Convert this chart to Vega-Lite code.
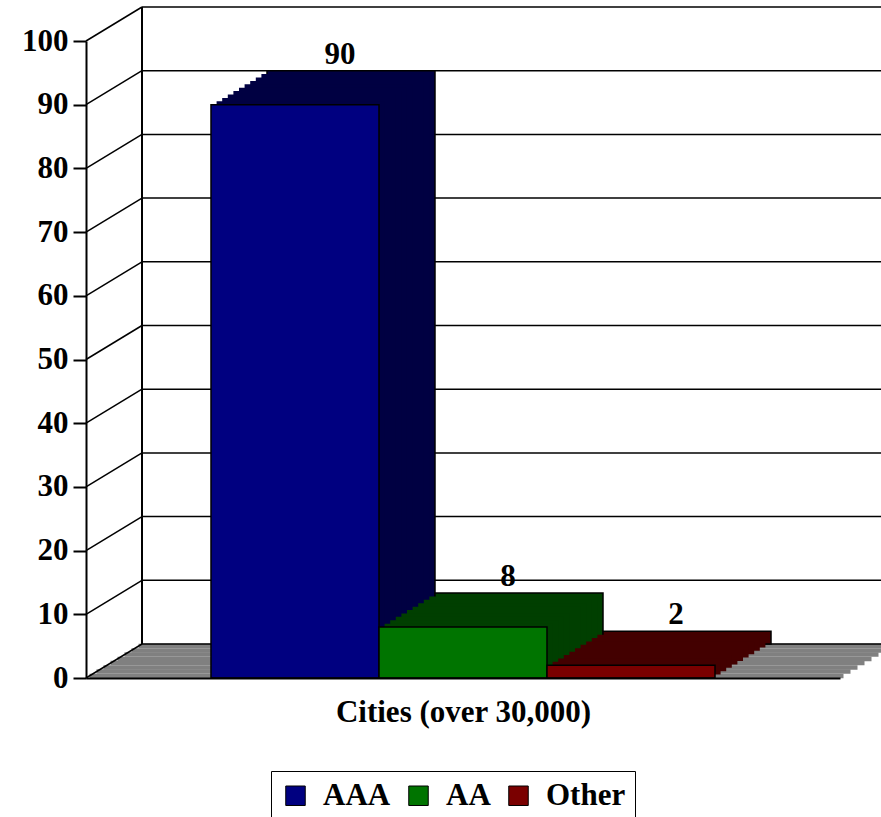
{
  "$schema": "https://vega.github.io/schema/vega-lite/v6.json",
  "width": 754,
  "height": 637,
  "autosize": "none",
  "padding": {"left": 86, "top": 41, "right": 41, "bottom": 139},
  "background": "white",
  "config": {
    "view": {"stroke": null},
    "font": "Liberation Serif",
    "axis": {"labelFont": "Liberation Serif", "titleFont": "Liberation Serif", "labelFontWeight": "bold", "titleFontWeight": "bold", "labelColor": "black", "titleColor": "black"},
    "legend": {"labelFont": "Liberation Serif", "titleFont": "Liberation Serif", "labelFontWeight": "bold", "labelColor": "black"},
    "text": {"font": "Liberation Serif"}
  },
  "datasets": {
    "bars": [
      {"series": "AAA", "value": 90},
      {"series": "AA", "value": 8},
      {"series": "Other", "value": 2}
    ],
    "grid": [
      {"value": 0}, {"value": 10}, {"value": 20}, {"value": 30}, {"value": 40}, {"value": 50},
      {"value": 60}, {"value": 70}, {"value": 80}, {"value": 90}, {"value": 100}
    ]
  },
  "data": {"name": "bars"},
  "layer": [
    {"data": {"name": "grid"}, "transform": [{"filter": "datum.value == 0"}],
     "mark": {"type": "rule", "color": "#808080", "strokeWidth": 4.5, "xOffset": 3.5, "x2Offset": 3.5, "yOffset": -2.1, "y2Offset": -2.1},
     "encoding": {"x": {"value": 0}, "x2": {"value": "width"}, "y": {"field": "value", "type": "quantitative", "scale": {"domain": [0, 100], "nice": false}}}},
    {"data": {"name": "grid"}, "transform": [{"filter": "datum.value == 0"}],
     "mark": {"type": "rule", "color": "#808080", "strokeWidth": 4.5, "xOffset": 10.5, "x2Offset": 10.5, "yOffset": -6.4, "y2Offset": -6.4},
     "encoding": {"x": {"value": 0}, "x2": {"value": "width"}, "y": {"field": "value", "type": "quantitative"}}},
    {"data": {"name": "grid"}, "transform": [{"filter": "datum.value == 0"}],
     "mark": {"type": "rule", "color": "#808080", "strokeWidth": 4.5, "xOffset": 17.5, "x2Offset": 17.5, "yOffset": -10.6, "y2Offset": -10.6},
     "encoding": {"x": {"value": 0}, "x2": {"value": "width"}, "y": {"field": "value", "type": "quantitative"}}},
    {"data": {"name": "grid"}, "transform": [{"filter": "datum.value == 0"}],
     "mark": {"type": "rule", "color": "#808080", "strokeWidth": 4.5, "xOffset": 24.5, "x2Offset": 24.5, "yOffset": -14.9, "y2Offset": -14.9},
     "encoding": {"x": {"value": 0}, "x2": {"value": "width"}, "y": {"field": "value", "type": "quantitative"}}},
    {"data": {"name": "grid"}, "transform": [{"filter": "datum.value == 0"}],
     "mark": {"type": "rule", "color": "#808080", "strokeWidth": 4.5, "xOffset": 31.5, "x2Offset": 31.5, "yOffset": -19.1, "y2Offset": -19.1},
     "encoding": {"x": {"value": 0}, "x2": {"value": "width"}, "y": {"field": "value", "type": "quantitative"}}},
    {"data": {"name": "grid"}, "transform": [{"filter": "datum.value == 0"}],
     "mark": {"type": "rule", "color": "#808080", "strokeWidth": 4.5, "xOffset": 38.5, "x2Offset": 38.5, "yOffset": -23.4, "y2Offset": -23.4},
     "encoding": {"x": {"value": 0}, "x2": {"value": "width"}, "y": {"field": "value", "type": "quantitative"}}},
    {"data": {"name": "grid"}, "transform": [{"filter": "datum.value == 0"}],
     "mark": {"type": "rule", "color": "#808080", "strokeWidth": 4.5, "xOffset": 45.5, "x2Offset": 45.5, "yOffset": -27.6, "y2Offset": -27.6},
     "encoding": {"x": {"value": 0}, "x2": {"value": "width"}, "y": {"field": "value", "type": "quantitative"}}},
    {"data": {"name": "grid"}, "transform": [{"filter": "datum.value == 0"}],
     "mark": {"type": "rule", "color": "#808080", "strokeWidth": 4.5, "xOffset": 52.5, "x2Offset": 52.5, "yOffset": -31.9, "y2Offset": -31.9},
     "encoding": {"x": {"value": 0}, "x2": {"value": "width"}, "y": {"field": "value", "type": "quantitative"}}},
    {"data": {"name": "grid"},
     "mark": {"type": "rule", "color": "black", "strokeWidth": 1.5, "xOffset": 56, "x2Offset": 56, "yOffset": -34, "y2Offset": -34},
     "encoding": {"x": {"value": 0}, "x2": {"value": "width"}, "y": {"field": "value", "type": "quantitative"}}},
    {"data": {"name": "grid"},
     "mark": {"type": "rule", "color": "black", "strokeWidth": 1.5, "x2Offset": 56, "y2Offset": -34},
     "encoding": {"x": {"value": 0}, "x2": {"value": 0}, "y": {"field": "value", "type": "quantitative"}, "y2": {"field": "value"}}},
    {"data": {"name": "grid"}, "transform": [{"filter": "datum.value == 0"}],
     "mark": {"type": "rule", "color": "black", "strokeWidth": 2, "xOffset": 56, "yOffset": -34, "y2Offset": -34},
     "encoding": {"x": {"value": 0}, "y": {"datum": 0, "type": "quantitative"}, "y2": {"datum": 100}}},

    {"mark": {"type": "bar", "stroke": "black", "strokeWidth": 1.5, "xOffset": 56, "x2Offset": 56, "yOffset": -34, "y2Offset": -34},
     "encoding": {
       "x": {"field": "series", "type": "nominal", "scale": {"domain": ["AAA", "AA", "Other"], "paddingInner": 0, "paddingOuter": 0.744}},
       "y": {"field": "value", "type": "quantitative"},
       "fill": {"condition": [{"test": "datum.series == 'AAA'", "value": "#000042"}, {"test": "datum.series == 'AA'", "value": "#003f00"}], "value": "#430000"}}},
    {"mark": {"type": "bar", "xOffset": 50.4, "x2Offset": 50.4, "yOffset": -30.6, "y2Offset": -30.6},
     "encoding": {"x": {"field": "series", "type": "nominal"}, "y": {"field": "value", "type": "quantitative"},
       "fill": {"condition": [{"test": "datum.series == 'AAA'", "value": "#000042"}, {"test": "datum.series == 'AA'", "value": "#003f00"}], "value": "#430000"}}},
    {"mark": {"type": "bar", "xOffset": 44.8, "x2Offset": 44.8, "yOffset": -27.2, "y2Offset": -27.2},
     "encoding": {"x": {"field": "series", "type": "nominal"}, "y": {"field": "value", "type": "quantitative"},
       "fill": {"condition": [{"test": "datum.series == 'AAA'", "value": "#000042"}, {"test": "datum.series == 'AA'", "value": "#003f00"}], "value": "#430000"}}},
    {"mark": {"type": "bar", "xOffset": 39.2, "x2Offset": 39.2, "yOffset": -23.8, "y2Offset": -23.8},
     "encoding": {"x": {"field": "series", "type": "nominal"}, "y": {"field": "value", "type": "quantitative"},
       "fill": {"condition": [{"test": "datum.series == 'AAA'", "value": "#000042"}, {"test": "datum.series == 'AA'", "value": "#003f00"}], "value": "#430000"}}},
    {"mark": {"type": "bar", "xOffset": 33.6, "x2Offset": 33.6, "yOffset": -20.4, "y2Offset": -20.4},
     "encoding": {"x": {"field": "series", "type": "nominal"}, "y": {"field": "value", "type": "quantitative"},
       "fill": {"condition": [{"test": "datum.series == 'AAA'", "value": "#000042"}, {"test": "datum.series == 'AA'", "value": "#003f00"}], "value": "#430000"}}},
    {"mark": {"type": "bar", "xOffset": 28, "x2Offset": 28, "yOffset": -17, "y2Offset": -17},
     "encoding": {"x": {"field": "series", "type": "nominal"}, "y": {"field": "value", "type": "quantitative"},
       "fill": {"condition": [{"test": "datum.series == 'AAA'", "value": "#000042"}, {"test": "datum.series == 'AA'", "value": "#003f00"}], "value": "#430000"}}},
    {"mark": {"type": "bar", "xOffset": 22.4, "x2Offset": 22.4, "yOffset": -13.6, "y2Offset": -13.6},
     "encoding": {"x": {"field": "series", "type": "nominal"}, "y": {"field": "value", "type": "quantitative"},
       "fill": {"condition": [{"test": "datum.series == 'AAA'", "value": "#000042"}, {"test": "datum.series == 'AA'", "value": "#003f00"}], "value": "#430000"}}},
    {"mark": {"type": "bar", "xOffset": 16.8, "x2Offset": 16.8, "yOffset": -10.2, "y2Offset": -10.2},
     "encoding": {"x": {"field": "series", "type": "nominal"}, "y": {"field": "value", "type": "quantitative"},
       "fill": {"condition": [{"test": "datum.series == 'AAA'", "value": "#000042"}, {"test": "datum.series == 'AA'", "value": "#003f00"}], "value": "#430000"}}},
    {"mark": {"type": "bar", "xOffset": 11.2, "x2Offset": 11.2, "yOffset": -6.8, "y2Offset": -6.8},
     "encoding": {"x": {"field": "series", "type": "nominal"}, "y": {"field": "value", "type": "quantitative"},
       "fill": {"condition": [{"test": "datum.series == 'AAA'", "value": "#000042"}, {"test": "datum.series == 'AA'", "value": "#003f00"}], "value": "#430000"}}},
    {"mark": {"type": "bar", "xOffset": 5.6, "x2Offset": 5.6, "yOffset": -3.4, "y2Offset": -3.4},
     "encoding": {"x": {"field": "series", "type": "nominal"}, "y": {"field": "value", "type": "quantitative"},
       "fill": {"condition": [{"test": "datum.series == 'AAA'", "value": "#000042"}, {"test": "datum.series == 'AA'", "value": "#003f00"}], "value": "#430000"}}},

    {"mark": {"type": "bar", "stroke": "black", "strokeWidth": 1.5, "opacity": 1},
     "encoding": {
       "x": {"field": "series", "type": "nominal", "sort": ["AAA", "AA", "Other"],
             "axis": {"labels": false, "ticks": false, "domain": true, "domainColor": "black", "domainWidth": 2,
                      "title": "Cities (over 30,000)", "titleFont": "Liberation Serif", "titleFontSize": 31, "titleFontWeight": "bold",
                      "titleColor": "black", "titlePadding": 19, "zindex": 1}},
       "y": {"field": "value", "type": "quantitative",
             "axis": {"values": [0, 10, 20, 30, 40, 50, 60, 70, 80, 90, 100], "grid": false, "title": null,
                      "domainColor": "black", "domainWidth": 2, "tickColor": "black", "tickWidth": 2, "tickSize": 13,
                      "labelFont": "Liberation Serif", "labelFontSize": 31, "labelFontWeight": "bold", "labelColor": "black",
                      "labelPadding": 5, "zindex": 1}},
       "color": {"field": "series", "type": "nominal",
                 "scale": {"domain": ["AAA", "AA", "Other"], "range": ["#000080", "#007400", "#7a0000"]},
                 "legend": {"orient": "none", "legendX": 185, "legendY": 730, "direction": "horizontal", "title": null,
                            "strokeColor": "black", "fillColor": "white", "padding": 9,
                            "symbolType": "square", "symbolSize": 380, "symbolStrokeColor": "black", "symbolStrokeWidth": 1,
                            "labelFont": "Liberation Serif", "labelFontSize": 31, "labelFontWeight": "bold", "labelColor": "black",
                            "labelOffset": 12, "columnPadding": 12}}}},
    {"mark": {"type": "text", "font": "Liberation Serif", "fontSize": 31, "fontWeight": "bold", "color": "black", "dx": 45, "dy": -50},
     "encoding": {"x": {"field": "series", "type": "nominal"}, "y": {"field": "value", "type": "quantitative"}, "text": {"field": "value", "type": "quantitative"}}}
  ]
}
